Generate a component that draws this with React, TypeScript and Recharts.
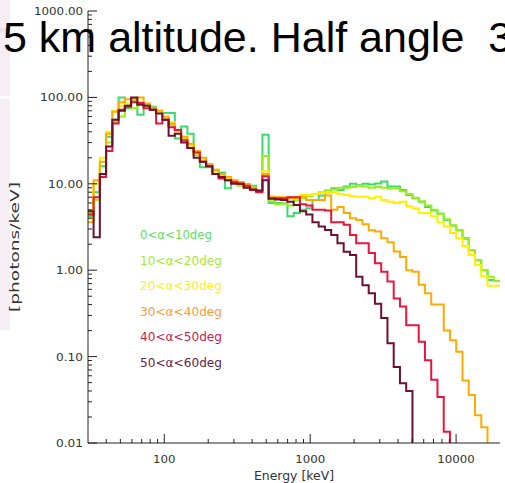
import React from 'react';
import { LineChart, Line, XAxis, YAxis } from 'recharts';

// Bin edges of the log-spaced energy histogram (keV)
const binEdges = [
  29.68, 32.76, 36.16, 39.91, 44.05, 48.62, 53.66, 59.22, 65.36, 72.14,
  79.62, 87.88, 97.0, 107.06, 118.16, 130.42, 143.95, 158.88, 175.35, 193.54,
  213.62, 235.77, 260.22, 287.21, 317.0, 349.88, 386.17, 426.2, 470.4, 519.2,
  573.1, 632.5, 698.1, 770.5, 850.4, 938.6, 1036.0, 1143.4, 1262.0, 1392.9,
  1537.4, 1696.8, 1872.7, 2067.0, 2281.4, 2518.0, 2779.2, 3067.4, 3385.5, 3736.7,
  4124.2, 4551.9, 5024.0, 5545.1, 6120.2, 6754.9, 7455.5, 8228.7, 9082.1, 10024,
  11064, 12211, 13478, 14876, 16419, 18121, 20000,
];

// photons/keV per bin (one value per bin, 66 bins)
const s0to10 = [
  4.2, 8, 16, 35, 55, 100, 75, 90, 63, 82, 78, 68, 66, 66, 33.5, 46, 38, 21.5, 15.5, 15.5,
  14, 13.5, 8.9, 11, 10, 9.9, 9.5, 8.5, 37,
  6.0, 6.0, 5.9, 4.2, 4.6, 5.0, 5.2, 6.5, 7.3, 7.8, 8.9, 8.5, 9.3, 10.0, 9.6, 10.0, 9.8, 10.1,
  10.6, 9.3, 9.3, 8.5, 7.4, 6.8, 6.2, 5.4, 4.9, 4.5, 3.8, 3.3, 2.9, 2.35, 1.7, 1.3, 1.0, 0.77, 0.75,
];
const s10to20 = [
  4.6, 6.5, 13, 30, 52, 60, 82, 75, 88, 80, 72, 66, 56, 48, 42, 34, 28, 24, 19, 16,
  14.5, 12.5, 11, 10.5, 9.5, 9, 8.8, 8.5, 21,
  6.3, 5.8, 5.9, 5.6, 6.4, 6.8, 7.2, 7.6, 8.0, 8.4, 8.6, 9.0, 9.0, 9.2, 9.5, 9.3, 9.0, 9.2,
  9.0, 8.8, 8.8, 8.2, 7.6, 6.9, 6.3, 5.6, 5.0, 4.5, 3.9, 3.3, 2.9, 2.3, 1.7, 1.3, 1.0, 0.84, 0.75,
];
const s20to30 = [
  4.0, 10, 20, 40, 70, 80, 85, 95, 88, 80, 75, 68, 58, 52, 40, 35, 28, 22, 19, 16.5,
  14, 12.5, 11.5, 11, 10, 9.5, 9, 8.5, 14,
  7.1, 7.1, 7.0, 7.0, 7.1, 7.4, 7.4, 7.6, 7.8, 7.8, 8.0, 7.6, 7.4, 7.2, 7.1, 7.1, 6.8, 7.1,
  6.5, 6.2, 6.0, 6.2, 5.5, 5.2, 4.6, 4.6, 4.2, 3.6, 3.2, 2.7, 2.35, 1.9, 1.5, 1.15, 0.85, 0.66, 0.66,
];
const s30to40 = [
  3.6, 11, 18, 38, 68, 88, 95, 95, 100, 85, 76, 70, 60, 50, 42, 35, 29, 24, 20, 17,
  14.5, 13, 12, 11, 10.5, 9.8, 9, 8.5, 13,
  7.1, 7.0, 6.9, 6.8, 6.8, 7.1, 6.5, 6.5, 6.5, 7.3, 5.0, 5.4, 4.6, 4.0, 3.8, 3.4, 2.9, 2.8,
  2.35, 2.1, 1.65, 1.42, 1.0, 0.96, 0.68, 0.54, 0.4, 0.4, 0.2, 0.155, 0.114, 0.053, 0.036, 0.021, 0.0152, 0.001, 0.001,
];
const s40to50 = [
  4.4, 7, 12, 24, 50, 72, 78, 88, 86, 75, 72, 50, 55, 45, 42, 32, 26, 23, 18, 16,
  13, 11.5, 11, 10.5, 10, 9.5, 8.5, 8.0, 12.2,
  6.8, 6.8, 6.8, 7.0, 7.0, 5.8, 5.6, 5.0, 5.0, 4.9, 3.6, 3.6, 3.35, 2.56, 2.05, 2.05, 1.58, 1.2,
  0.96, 0.74, 0.47, 0.38, 0.23, 0.23, 0.149, 0.091, 0.054, 0.034, 0.0135,
  0.001, 0.001, 0.001, 0.001, 0.001, 0.001, 0.001, 0.001,
];
const s50to60 = [
  4.8, 2.4, 13, 27, 55, 70, 80, 100, 82, 80, 72, 65, 55, 36, 38, 30, 26, 20, 18, 16,
  13, 12, 11, 10, 10, 9, 8.6, 8.3, 11,
  6.7, 6.6, 6.5, 6.2, 5.7, 4.8, 4.4, 3.6, 3.2, 2.92, 2.56, 2.05, 1.64, 1.5, 0.84, 0.67, 0.54, 0.41,
  0.28, 0.143, 0.076, 0.049, 0.04,
  0.001, 0.001, 0.001, 0.001, 0.001, 0.001, 0.001, 0.001, 0.001, 0.001, 0.001, 0.001, 0.001, 0.001,
];

const titleText = '5 km altitude. Half angle  3';
const seriesNames = ['0<α<10deg', '10<α<20deg', '20<α<30deg', '30<α<40deg', '40<α<50deg', '50<α<60deg'];
const seriesValues = [s0to10, s10to20, s20to30, s30to40, s40to50, s50to60];
const lineColors = ['#3BDB6B', '#99EE1A', '#FFF000', '#FFAA00', '#E8163C', '#6E1030'];
const textColors = ['#5FDD5F', '#A6EA2E', '#FFEC1A', '#FF9A33', '#CC2248', '#66224A'];

const xTicks = [
  40, 50, 60, 70, 80, 90, 100, 200, 300, 400, 500, 600, 700, 800, 900, 1000,
  2000, 3000, 4000, 5000, 6000, 7000, 8000, 9000, 10000,
];
const yTicks = [
  0.01, 0.02, 0.03, 0.04, 0.05, 0.06, 0.07, 0.08, 0.09,
  0.1, 0.2, 0.3, 0.4, 0.5, 0.6, 0.7, 0.8, 0.9,
  1, 2, 3, 4, 5, 6, 7, 8, 9,
  10, 20, 30, 40, 50, 60, 70, 80, 90,
  100, 200, 300, 400, 500, 600, 700, 800, 900, 1000,
];
const yLabelWidths: Record<string, number> = {
  '0.01': 27, '0.10': 27, '1.00': 27, '10.00': 35, '100.00': 43, '1000.00': 49,
};

const keys = seriesValues.map((_, i) => 's' + i);
const rows = binEdges.map((e, i) => {
  const r: any = { e };
  seriesValues.forEach((s, j) => {
    r[keys[j]] = s[Math.min(i, s.length - 1)];
  });
  return r;
});

const isMajor = (v: number) => Math.abs(Math.log10(v) - Math.round(Math.log10(v))) < 1e-6;
const tickFont = { fontFamily: 'DejaVu Sans', fontSize: 11, fill: '#333' };
const AX = '#222';

const LeftTick = (p: any) => {
  const v = p.payload.value;
  const major = isMajor(v);
  const label = v.toFixed(2);
  return (
    <g>
      <line x1={p.x} y1={p.y} x2={p.x + (major ? 9 : 4)} y2={p.y} stroke={AX} strokeWidth={1} />
      {major && (
        <text x={p.x - 5} y={p.y + 4} textAnchor="end" {...tickFont}
          textLength={yLabelWidths[label]} lengthAdjust="spacingAndGlyphs">{label}</text>
      )}
    </g>
  );
};
const RightTick = (p: any) => {
  const major = isMajor(p.payload.value);
  return <line x1={p.x} y1={p.y} x2={p.x - (major ? 9 : 4)} y2={p.y} stroke={AX} strokeWidth={1} />;
};
const BottomTick = (p: any) => {
  const v = p.payload.value;
  const major = isMajor(v);
  const label = String(v);
  return (
    <g>
      <line x1={p.x} y1={p.y} x2={p.x} y2={p.y - (major ? 9 : 4)} stroke={AX} strokeWidth={1} />
      {major && (
        <text x={p.x} y={p.y + 20} textAnchor="middle" {...tickFont}
          textLength={label.length * 7.5} lengthAdjust="spacingAndGlyphs">{label}</text>
      )}
    </g>
  );
};
const TopTick = (p: any) => {
  const major = isMajor(p.payload.value);
  return <line x1={p.x} y1={p.y} x2={p.x} y2={p.y + (major ? 9 : 4)} stroke={AX} strokeWidth={1} />;
};

export default function App() {
  return (
    <div style={{ position: 'absolute', left: 0, top: 0, width: 505, height: 483, background: '#fff', overflow: 'hidden' }}>
      <svg width={505} height={483} style={{ position: 'absolute', left: 0, top: 0 }}>
        <rect x={0} y={0} width={10} height={330} fill="#F6EEF4" />
        <rect x={0} y={28} width={10} height={4} fill="#ECE2EA" />
        <rect x={0} y={96} width={10} height={3} fill="#FDFBFC" />
      </svg>
      <div style={{ position: 'absolute', left: 0, top: 0 }}>
        <LineChart width={505} height={483} data={rows} margin={{ top: 11, right: 5, bottom: 0, left: 8 }}>
          <XAxis xAxisId="b" orientation="bottom" dataKey="e" type="number" scale="log" domain={[30, 20000]}
            allowDataOverflow ticks={xTicks} interval={0} tickSize={0} tickMargin={0} height={40}
            axisLine={{ stroke: AX }} tickLine={false} tick={(p: any) => <BottomTick {...p} />} />
          <XAxis xAxisId="t" orientation="top" dataKey="e" type="number" scale="log" domain={[30, 20000]}
            allowDataOverflow ticks={xTicks} interval={0} tickSize={0} tickMargin={0} height={0}
            axisLine={{ stroke: AX }} tickLine={false} tick={(p: any) => <TopTick {...p} />} />
          <YAxis yAxisId="l" orientation="left" type="number" scale="log" domain={[0.01, 1000]}
            allowDataOverflow ticks={yTicks} interval={0} tickSize={0} tickMargin={0} width={80}
            axisLine={{ stroke: AX }} tickLine={false} tick={(p: any) => <LeftTick {...p} />} />
          <YAxis yAxisId="r" orientation="right" type="number" scale="log" domain={[0.01, 1000]}
            allowDataOverflow ticks={yTicks} interval={0} tickSize={0} tickMargin={0} width={0}
            axisLine={{ stroke: AX }} tickLine={false} tick={(p: any) => <RightTick {...p} />} />
          {keys.map((k, i) => (
            <Line key={k} xAxisId="b" yAxisId="l" type="stepAfter" dataKey={k} stroke={lineColors[i]}
              strokeWidth={2} dot={false} activeDot={false} isAnimationActive={false} />
          ))}
        </LineChart>
      </div>
      <svg width={505} height={483} style={{ position: 'absolute', left: 0, top: 0, pointerEvents: 'none' }}>
        <text x={3} y={52} fontFamily="Liberation Sans, Arial, sans-serif" fontSize={43} fill="#000"
          style={{ whiteSpace: 'pre' }}>{titleText}</text>
        {seriesNames.map((n, i) => (
          <text key={n} x={140} y={239 + i * 25.6} fontFamily="DejaVu Sans" fontSize={11.5} fill={textColors[i]}
            textLength={i === 0 ? 72 : 82} lengthAdjust="spacingAndGlyphs">{n}</text>
        ))}
        <text transform="translate(19,247) rotate(-90)" textAnchor="middle" fontFamily="DejaVu Sans" fontSize={12}
          fill="#333" textLength={130} lengthAdjust="spacingAndGlyphs">[photons/keV]</text>
        <text x={294} y={480} textAnchor="middle" fontFamily="DejaVu Sans" fontSize={11.5} fill="#333"
          textLength={80} lengthAdjust="spacingAndGlyphs">Energy [keV]</text>
      </svg>
    </div>
  );
}
